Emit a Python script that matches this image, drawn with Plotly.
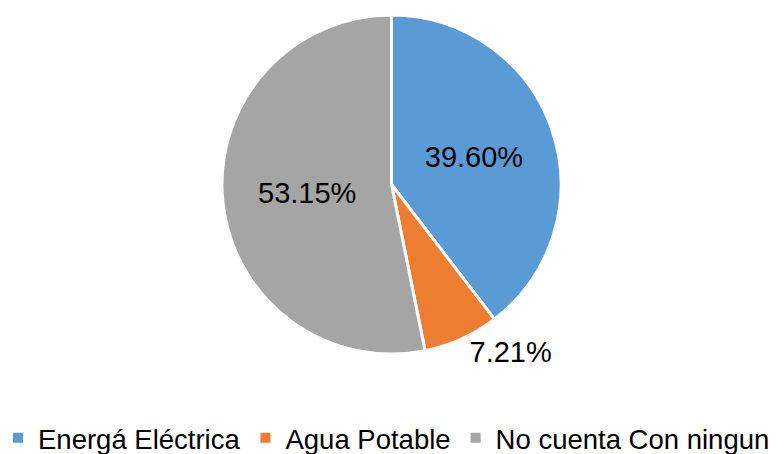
import plotly.graph_objects as go

labels = ["Energá Eléctrica", "Agua Potable", "No cuenta Con ningun"]
values = [39.60, 7.21, 53.15]
colors = ["#5B9BD5", "#ED7D31", "#A5A5A5"]
text_positions = ["inside", "outside", "inside"]

W, H = 784, 454
OFF = 8  # page body margin offsets the figure by 8px
FONT = "Arial, Liberation Sans, sans-serif"

# pie box in screen pixels (left, right, top, bottom)
PL, PR, PT, PB = 222 - OFF, 561 - OFF, 15 - OFF, 354 - OFF

fig = go.Figure(go.Pie(
    labels=labels,
    values=values,
    sort=False,
    direction="clockwise",
    rotation=0,
    marker=dict(colors=colors, line=dict(color="white", width=3)),
    texttemplate="%{value:.2f}%",
    textposition=text_positions,
    insidetextorientation="horizontal",
    textfont=dict(family=FONT, size=29, color="black"),
    insidetextfont=dict(family=FONT, size=29, color="black"),
    outsidetextfont=dict(family=FONT, size=29, color="black"),
    hoverinfo="label+value",
    domain=dict(x=[PL / W, PR / W], y=[(H - PB) / H, (H - PT) / H]),
))

fig.update_layout(
    width=W, height=H,
    margin=dict(l=0, r=0, t=0, b=0, autoexpand=False),
    paper_bgcolor="white",
    plot_bgcolor="white",
    showlegend=True,
    legend=dict(
        orientation="h",
        x=-10 / W, xanchor="left",
        y=-0.001, yanchor="bottom",
        font=dict(family=FONT, size=27.5, color="black"),
        itemsizing="constant",
        bgcolor="rgba(0,0,0,0)",
    ),
)

fig.write_html("out.html")
